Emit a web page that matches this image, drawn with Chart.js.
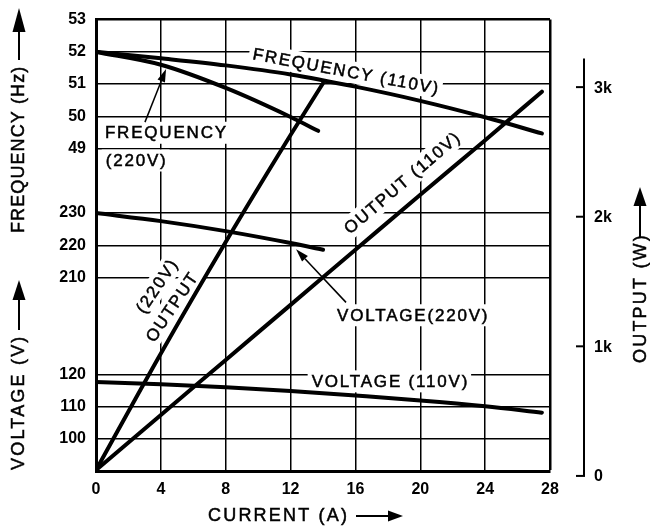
<!DOCTYPE html>
<html>
<head>
<meta charset="utf-8">
<script src="https://cdn.jsdelivr.net/npm/chart.js@4.4.1/dist/chart.umd.min.js"></script>
<style>
  html, body { margin: 0; padding: 0; background: #fff; }
</style>
</head>
<body>
<canvas id="chart" width="650" height="529"></canvas>
<script>
// left axis rows, bottom to top (frequency rows on top, voltage rows below)
const leftTickLabels = ['', '100', '110', '120', '', '', '210', '220', '230', '', '49', '50', '51', '52', '53'];
const outputTickValues = [0, 1000, 2000, 3000];
const outputTickLabels = ['0', '1k', '2k', '3k'];
const outputAxisTop = 3220;

// curves (current in A)
const freq110Current = [0, 4, 8, 12, 16, 20, 24, 27.5];
const freq110Hz = [52, 51.8, 51.58, 51.3, 50.92, 50.48, 49.97, 49.47];

const freq220Current = [0, 4, 8, 12, 13.7];
const freq220Hz = [52, 51.6, 50.88, 49.98, 49.55];

const volt220Current = [0, 4, 8, 12, 14];
const volt220V = [230, 227.5, 224.4, 220.7, 218.6];

const volt110Current = [0, 4, 8, 12, 16, 20, 24, 27.5];
const volt110V = [117.6, 116.9, 116.0, 114.8, 113.4, 111.9, 110.1, 108.1];

const out220Current = [0, 4, 8, 12, 14];
const out220W = [45, 945, 1805, 2630, 3030];

const out110Current = [0, 4, 8, 12, 16, 20, 24, 27.5];
const out110W = [45, 470, 895, 1320, 1745, 2170, 2590, 2965];

const FONT = "'Liberation Sans', Arial, sans-serif";

// text labels on the plot, in data coords (x = A, y = left axis row value)
const notes = [
    { text: 'FREQUENCY (110V)', x: 15.45, y: 51.4, angle: 10.6, align: 'center' },
    { text: 'FREQUENCY', x: 0.55, y: 49.49, angle: 0, align: 'left' },
    { text: '(220V)', x: 0.6, y: 48.63, angle: 0, align: 'left' },
    { text: 'VOLTAGE(220V)', x: 14.87, y: 43.83, angle: 0, align: 'left' },
    { text: 'VOLTAGE (110V)', x: 13.3, y: 41.78, angle: 0, align: 'left' },
    { text: 'OUTPUT (110V)', x: 18.9, y: 47.95, angle: -40.6, align: 'center' },
    { text: '(220V)', x: 3.76, y: 44.75, angle: -56, align: 'center' },
    { text: 'OUTPUT', x: 4.69, y: 44.1, angle: -56, align: 'center' }
];
const leaders = [
    { x0: 3.02, y0: 49.82, x1: 4.32, y1: 51.47 },
    { x0: 15.42, y0: 44.23, x1: 12.34, y1: 45.88 }
];

function pts(xs, ys) {
    return xs.map((x, i) => ({ x: x, y: ys[i] }));
}

function curve(data, axis) {
    return {
        data: data,
        yAxisID: axis,
        borderColor: '#000',
        borderWidth: 4,
        pointRadius: 0,
        fill: false,
        cubicInterpolationMode: 'monotone',
        borderCapStyle: 'round',
        borderJoinStyle: 'round'
    };
}

function arrowHead(ctx, x0, y0, x1, y1, len, half) {
    const a = Math.atan2(y1 - y0, x1 - x0);
    const bx = x1 - Math.cos(a) * len, by = y1 - Math.sin(a) * len;
    ctx.beginPath();
    ctx.moveTo(x0, y0);
    ctx.lineTo(bx, by);
    ctx.stroke();
    ctx.beginPath();
    ctx.moveTo(x1, y1);
    ctx.lineTo(bx + Math.sin(a) * half, by - Math.cos(a) * half);
    ctx.lineTo(bx - Math.sin(a) * half, by + Math.cos(a) * half);
    ctx.closePath();
    ctx.fill();
}

function heavyText(ctx, text, x, y) {
    ctx.fillText(text, x, y);
    ctx.lineWidth = 0.5;
    ctx.strokeText(text, x, y);
}

function titleText(ctx, text, x, y, rot, spacing) {
    ctx.save();
    ctx.translate(x, y);
    ctx.rotate(rot);
    ctx.font = '18px ' + FONT;
    ctx.letterSpacing = spacing + 'px';
    ctx.textAlign = 'left';
    ctx.textBaseline = 'middle';
    ctx.fillStyle = '#000';
    ctx.strokeStyle = '#000';
    heavyText(ctx, text, 0, 0);
    ctx.restore();
}

const decor = {
    id: 'decor',
    beforeDatasetsDraw(chart) {
        const ctx = chart.ctx, sx = chart.scales.x, sy = chart.scales.y;
        notes.forEach(n => {
            ctx.save();
            ctx.translate(sx.getPixelForValue(n.x), sy.getPixelForValue(n.y));
            ctx.rotate(n.angle * Math.PI / 180);
            ctx.font = '17px ' + FONT;
            ctx.letterSpacing = '1.8px';
            const w = ctx.measureText(n.text).width;
            const x0 = n.align === 'center' ? -w / 2 : 0;
            ctx.fillStyle = '#fff';
            ctx.fillRect(x0 - 4, -11, w + 6, 22);
            ctx.fillStyle = '#000';
            ctx.strokeStyle = '#000';
            ctx.textAlign = 'left';
            ctx.textBaseline = 'middle';
            heavyText(ctx, n.text, x0, 1);
            ctx.restore();
        });
    },
    afterDatasetsDraw(chart) {
        const ctx = chart.ctx, sx = chart.scales.x, sy = chart.scales.y;
        ctx.save();
        ctx.strokeStyle = '#000';
        ctx.fillStyle = '#000';
        ctx.lineWidth = 1.5;
        leaders.forEach(l => {
            arrowHead(ctx, sx.getPixelForValue(l.x0), sy.getPixelForValue(l.y0),
                sx.getPixelForValue(l.x1), sy.getPixelForValue(l.y1), 13, 4);
        });
        ctx.restore();
    },
    afterDraw(chart) {
        const ctx = chart.ctx, so = chart.scales.yOut, area = chart.chartArea;
        const ax = area.right + 34;
        ctx.save();
        ctx.strokeStyle = '#000';
        ctx.fillStyle = '#000';
        ctx.lineWidth = 2;
        ctx.beginPath();
        ctx.moveTo(ax, so.getPixelForValue(outputAxisTop));
        ctx.lineTo(ax, so.getPixelForValue(0));
        ctx.stroke();
        ctx.font = 'bold 16px ' + FONT;
        ctx.textAlign = 'left';
        ctx.textBaseline = 'middle';
        outputTickValues.forEach((v, i) => {
            const y = so.getPixelForValue(v);
            ctx.beginPath();
            ctx.moveTo(ax - 8, y);
            ctx.lineTo(ax + 1, y);
            ctx.stroke();
            ctx.fillText(outputTickLabels[i], ax + 10, y + 1);
        });

        // axis titles with arrows
        titleText(ctx, 'FREQUENCY (Hz)', 19, 233, -Math.PI / 2, 1.1);
        titleText(ctx, 'VOLTAGE (V)', 19, 470, -Math.PI / 2, 2.2);
        titleText(ctx, 'OUTPUT (W)', 641, 363, -Math.PI / 2, 2.2);
        titleText(ctx, 'CURRENT (A)', 208, 516, 0, 2.2);
        ctx.lineWidth = 2;
        arrowHead(ctx, 19, 60, 19, 8, 24, 6.5);
        arrowHead(ctx, 19, 330, 19, 280, 20, 6.5);
        arrowHead(ctx, 640, 237, 640, 187, 19, 6.5);
        arrowHead(ctx, 356, 516, 403, 516, 15, 5.5);
        ctx.restore();
    }
};

new Chart(document.getElementById('chart'), {
    type: 'line',
    data: {
        datasets: [
            curve(pts(freq110Current, freq110Hz), 'y'),
            curve(pts(freq220Current, freq220Hz), 'y'),
            curve(pts(volt220Current, volt220V), 'yV220'),
            curve(pts(volt110Current, volt110V), 'yV110'),
            curve(pts(out220Current, out220W), 'yOut'),
            curve(pts(out110Current, out110W), 'yOut')
        ]
    },
    options: {
        responsive: false,
        animation: false,
        devicePixelRatio: 1,
        layout: { padding: { top: 13, right: 100, left: 0, bottom: 0 } },
        plugins: { legend: { display: false }, tooltip: { enabled: false } },
        scales: {
            x: {
                type: 'linear',
                min: 0,
                max: 28,
                ticks: {
                    stepSize: 4,
                    color: '#000',
                    padding: 9,
                    font: { family: FONT, size: 16, weight: 'bold' }
                },
                grid: {
                    color: '#000',
                    lineWidth: c => (c.tick && c.tick.value === 28 ? 2.5 : 1.5),
                    drawTicks: false
                },
                border: { color: '#000', width: 3 },
                afterFit: s => { s.height = 58; }
            },
            y: {
                type: 'linear',
                position: 'left',
                min: 39,
                max: 53,
                ticks: {
                    stepSize: 1,
                    autoSkip: false,
                    color: '#000',
                    padding: 10,
                    font: { family: FONT, size: 16, weight: 'bold' },
                    callback: (v, i) => leftTickLabels[i]
                },
                grid: {
                    color: c => (leftTickLabels[c.index] ? '#000' : 'rgba(0,0,0,0)'),
                    lineWidth: c => (c.index === 14 ? 2.5 : 1.5),
                    drawTicks: false
                },
                border: { color: '#000', width: 3 },
                afterFit: s => { s.width = 96; }
            },
            yV220: { type: 'linear', display: false, min: 150, max: 290 },
            yV110: { type: 'linear', display: false, min: 90, max: 230 },
            yOut: { type: 'linear', display: false, min: 38, max: 3521 }
        }
    },
    plugins: [decor]
});
</script>
</body>
</html>
